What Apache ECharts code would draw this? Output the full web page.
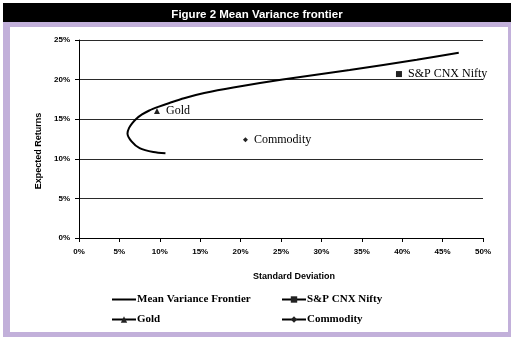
<!DOCTYPE html>
<html><head><meta charset="utf-8">
<script src="https://cdn.jsdelivr.net/npm/echarts@6/dist/echarts.min.js"></script>
<style>html,body{margin:0;padding:0;background:#fff}#c{width:514px;height:343px}</style>
</head><body><div id="c"></div>
<script>
// Mean variance frontier: [std dev %, expected return %]
const frontier = [
  [10.7, 10.7], [9.2, 10.85], [7.5, 11.35], [6.5, 12.2], [6.0, 13.2], [6.2, 13.9],
  [6.6, 14.5], [7.1, 15.05], [7.8, 15.6], [8.7, 16.1], [9.8, 16.55], [11.2, 17.05],
  [13.0, 17.65], [15.5, 18.3], [19.1, 19.0], [25.2, 20.0], [33.5, 21.2], [41.8, 22.5], [47.0, 23.4]
];
const nifty = [[39.6, 20.7]];
const gold = [[9.65, 16.05]];
const commodity = [[20.6, 12.4]];
const seriesNames = ['Mean Variance Frontier', 'S&P CNX Nifty', 'Gold', 'Commodity'];
const titleText = 'Figure 2 Mean Variance frontier';
const xName = 'Standard Deviation';
const yName = 'Expected Returns';

const chart = echarts.init(document.getElementById('c'));
const serif = '"Liberation Serif", "Times New Roman", serif';
const sans = '"Liberation Sans", Arial, sans-serif';
const pointLabel = {show: true, position: 'right', distance: 6, formatter: p => p.seriesName,
  fontFamily: serif, fontSize: 12, color: '#000'};
const legendText = {fontFamily: serif, fontSize: 11, fontWeight: 'bold', color: '#000', padding: [0,0,0,-4]};
chart.setOption({
  animation: false,
  backgroundColor: '#fff',
  graphic: [
    {type: 'rect', shape: {x: 3, y: 3, width: 508, height: 20}, style: {fill: '#000'}, z: -10},
    {type: 'rect', shape: {x: 3, y: 22, width: 508, height: 315}, style: {fill: '#c2b0da'}, z: -10},
    {type: 'rect', shape: {x: 10, y: 27, width: 498, height: 305}, style: {fill: '#fff'}, z: -9}
  ],
  title: {text: titleText, left: 'center', top: 4, textStyle: {color: '#fff', fontFamily: sans, fontWeight: 'bold', fontSize: 11.5}},
  grid: {left: 79, right: 31, top: 40, bottom: 105},
  legend: [
    {data: [{name: seriesNames[0], itemStyle: {color: 'rgba(0,0,0,0)', borderWidth: 0}}, seriesNames[2]],
     orient: 'vertical', left: 106, top: 289, itemWidth: 24, itemHeight: 8, itemGap: 9, textStyle: legendText},
    {data: [seriesNames[1], seriesNames[3]], orient: 'vertical', left: 276, top: 289, itemWidth: 24, itemHeight: 8, itemGap: 9,
     textStyle: legendText}
  ],
  xAxis: {
    type: 'value', min: 0, max: 50, interval: 5,
    name: xName, nameLocation: 'middle', nameGap: 34,
    nameTextStyle: {fontFamily: sans, fontWeight: 'bold', fontSize: 9, color: '#000', padding: [0,0,0,26]},
    axisLine: {show: true, lineStyle: {color: '#000', width: 1}},
    axisTick: {show: true, length: 4, lineStyle: {color: '#000'}},
    axisLabel: {formatter: '{value}%', fontFamily: sans, fontWeight: 'bold', fontSize: 8, color: '#000', margin: 10},
    splitLine: {show: false}
  },
  yAxis: {
    type: 'value', min: 0, max: 25, interval: 5,
    name: yName, nameLocation: 'middle', nameGap: 36, nameRotate: 90,
    nameTextStyle: {fontFamily: sans, fontWeight: 'bold', fontSize: 9, color: '#000', padding: [0,24,0,0]},
    axisLine: {show: true, lineStyle: {color: '#000', width: 1}},
    axisTick: {show: true, length: 4, lineStyle: {color: '#000'}},
    axisLabel: {formatter: '{value}%', fontFamily: sans, fontWeight: 'bold', fontSize: 8, color: '#000', margin: 9},
    splitLine: {show: true, lineStyle: {color: '#2a2a2a', width: 1}}
  },
  series: [
    {name: seriesNames[0], type: 'line', data: frontier, smooth: 0.3, showSymbol: false, symbol: 'none',
     lineStyle: {color: '#000', width: 2}, itemStyle: {color: '#000'}},
    {name: seriesNames[1], type: 'line', data: nifty, symbol: 'rect', symbolSize: 6,
     lineStyle: {color: '#000', width: 2}, itemStyle: {color: '#222'}, label: pointLabel},
    {name: seriesNames[2], type: 'line', data: gold, symbol: 'triangle', symbolSize: 6,
     lineStyle: {color: '#000', width: 2}, itemStyle: {color: '#222'}, label: pointLabel},
    {name: seriesNames[3], type: 'line', data: commodity, symbol: 'diamond', symbolSize: 5,
     lineStyle: {color: '#000', width: 1.5}, itemStyle: {color: '#222'}, label: pointLabel}
  ]
});
</script></body></html>
